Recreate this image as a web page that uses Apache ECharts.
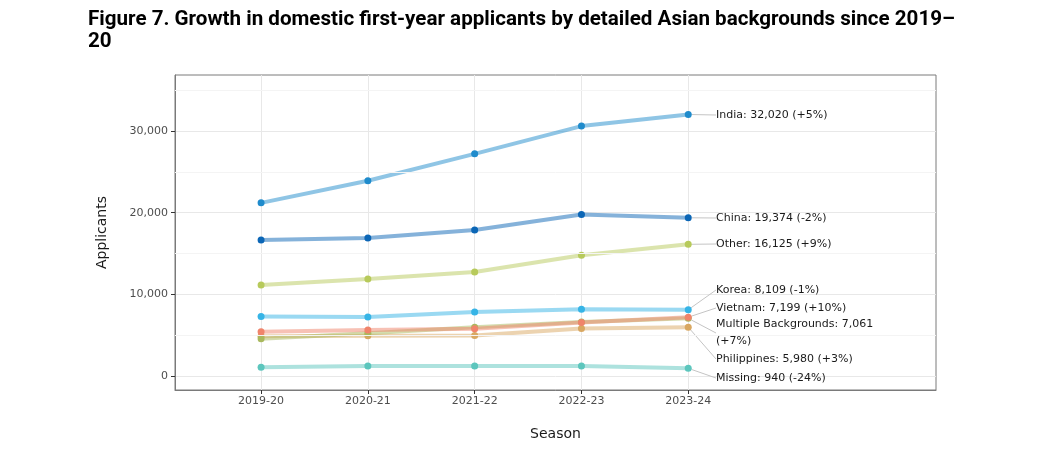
<!DOCTYPE html>
<html>
<head>
<meta charset="utf-8">
<script src="https://cdn.jsdelivr.net/npm/echarts@6/dist/echarts.min.js"></script>
<style>
  html, body { margin: 0; padding: 0; background: #fff; }
  #chart { width: 1056px; height: 455px; }
</style>
</head>
<body>
<div id="chart"></div>
<script>
// data
const seasons = ['2019-20', '2020-21', '2021-22', '2022-23', '2023-24'];
const yTicks = [0, 10000, 20000, 30000];
const yMinorLines = [5000, 15000, 25000, 35000];

const india = [21200, 23900, 27200, 30600, 32020];
const china = [16650, 16900, 17880, 19770, 19374];
const other = [11140, 11880, 12730, 14790, 16125];
const korea = [7300, 7220, 7840, 8170, 8109];
const multiple = [4560, 5220, 5960, 6600, 7061];
const philippines = [4880, 4940, 4960, 5806, 5980];
const vietnam = [5420, 5630, 5790, 6545, 7199];
const missing = [1060, 1220, 1220, 1237, 940];

const endLabels = {
    india: 'India: 32,020 (+5%)',
    china: 'China: 19,374 (-2%)',
    other: 'Other: 16,125 (+9%)',
    korea: 'Korea: 8,109 (-1%)',
    vietnam: 'Vietnam: 7,199 (+10%)',
    multiple: 'Multiple Backgrounds: 7,061\n(+7%)',
    philippines: 'Philippines: 5,980 (+3%)',
    missing: 'Missing: 940 (-24%)'
};

// series styling (draw order: first = bottom)
const seriesDefs = [
    { key: 'missing', values: missing, color: '#5cc6bd', labelY: 378 },
    { key: 'philippines', values: philippines, color: '#d9a862', labelY: 359 },
    { key: 'multiple', values: multiple, color: '#a9b95e', labelY: 333 },
    { key: 'vietnam', values: vietnam, color: '#f0846b', labelY: 308 },
    { key: 'korea', values: korea, color: '#36b4e6', labelY: 290 },
    { key: 'other', values: other, color: '#b7ca5b', labelY: 244 },
    { key: 'china', values: china, color: '#0b66b6', labelY: 218 },
    { key: 'india', values: india, color: '#1f8bcc', labelY: 115 }
];

const font = 'DejaVu Sans';
const chart = echarts.init(document.getElementById('chart'), null, { renderer: 'canvas' });

const series = seriesDefs.map(def => ({
    name: def.key,
    type: 'line',
    symbol: 'circle',
    symbolSize: 7,
    color: def.color,
    lineStyle: { width: 4, opacity: 0.5, color: def.color },
    itemStyle: { color: def.color, opacity: 1 },
    emphasis: { disabled: true },
    animation: false,
    data: def.values.map((v, i) => {
        if (i === def.values.length - 1) {
            return {
                value: [i, v],
                label: {
                    show: true,
                    formatter: endLabels[def.key],
                    fontFamily: font,
                    fontSize: 11,
                    lineHeight: 17,
                    color: '#1a1a1a'
                }
            };
        }
        return [i, v];
    }),
    labelLine: { show: true, lineStyle: { color: '#c4c4c4', width: 1 } },
    labelLayout: () => ({ x: 716, y: def.labelY, align: 'left', verticalAlign: 'middle' })
}));

// invisible series holding the light minor grid lines
series.unshift({
    type: 'line',
    data: [],
    silent: true,
    markLine: {
        silent: true,
        symbol: 'none',
        label: { show: false },
        lineStyle: { color: '#f4f4f4', width: 1, type: 'solid' },
        data: yMinorLines.map(v => ({ yAxis: v }))
    }
});

chart.setOption({
    animation: false,
    title: {
        text: 'Figure 7. Growth in domestic first-year applicants by detailed Asian backgrounds since 2019–\n20',
        left: 83,
        top: 4,
        textStyle: {
            fontFamily: 'Roboto',
            fontWeight: 'bold',
            fontSize: 20.6,
            lineHeight: 22,
            color: '#000'
        }
    },
    grid: {
        left: 175,
        top: 75,
        width: 761,
        height: 315,
        show: true,
        borderColor: '#7a7a7a',
        borderWidth: 1,
        backgroundColor: 'transparent'
    },
    xAxis: {
        type: 'value',
        min: -0.806,
        max: 6.32,
        name: 'Season',
        nameLocation: 'middle',
        nameGap: 37,
        nameTextStyle: { fontFamily: font, fontSize: 14, color: '#1a1a1a' },
        axisLine: { show: true, onZero: false, lineStyle: { color: '#7a7a7a', width: 1 } },
        axisTick: {
            show: true,
            length: 4,
            lineStyle: { color: '#333' },
            customValues: [0, 1, 2, 3, 4]
        },
        axisLabel: {
            customValues: [0, 1, 2, 3, 4],
            formatter: v => seasons[Math.round(v)] || '',
            fontFamily: font,
            fontSize: 11,
            color: '#4d4d4d',
            margin: 6
        },
        splitLine: { show: true, lineStyle: { color: '#e8e8e8', width: 1 } }
    },
    yAxis: {
        type: 'value',
        min: -1714,
        max: 36856,
        name: 'Applicants',
        nameLocation: 'middle',
        nameGap: 66,
        nameTextStyle: { fontFamily: font, fontSize: 14, color: '#1a1a1a' },
        axisLine: { show: true, onZero: false, lineStyle: { color: '#7a7a7a', width: 1 } },
        axisTick: {
            show: true,
            length: 4,
            lineStyle: { color: '#333' },
            customValues: yTicks
        },
        axisLabel: {
            customValues: yTicks,
            formatter: v => v.toLocaleString('en-US'),
            fontFamily: font,
            fontSize: 11,
            color: '#4d4d4d',
            margin: 7
        },
        splitLine: { show: true, lineStyle: { color: '#e8e8e8', width: 1 } }
    },
    series: series
});
</script>
</body>
</html>
